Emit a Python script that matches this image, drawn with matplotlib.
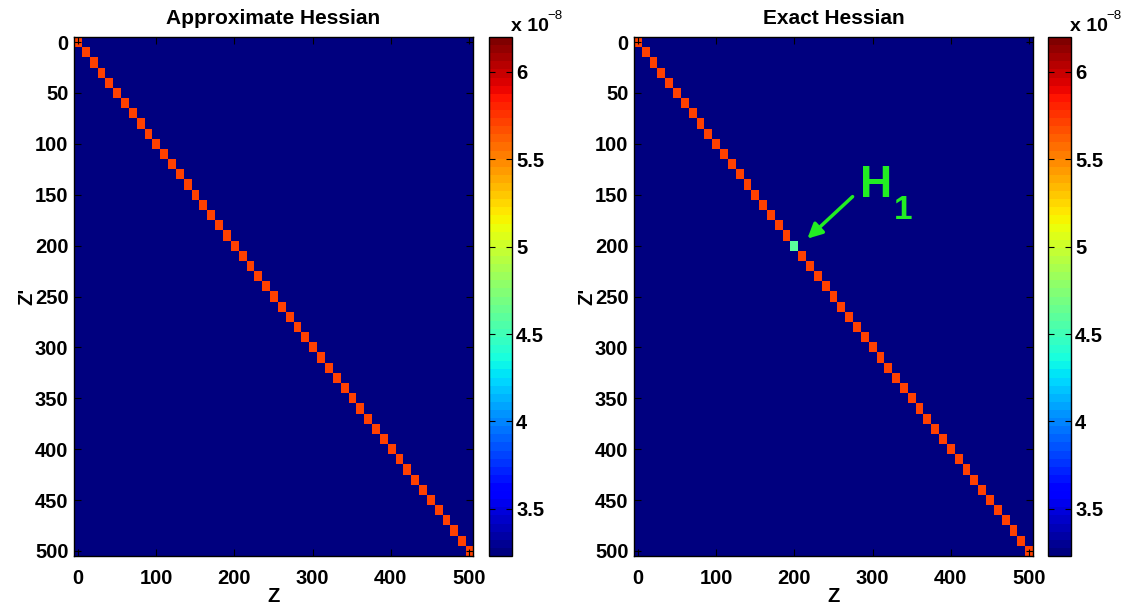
import numpy as np
import matplotlib
matplotlib.use('Agg')
import matplotlib.pyplot as plt

plt.rcParams['font.family'] = ['Liberation Sans', 'DejaVu Sans']
plt.rcParams['font.weight'] = 'bold'

# grid of depth points (one matrix cell per point)
z = np.arange(0, 501, 10)
n = len(z)

background = 3.23e-8          # off-diagonal level
diag_value = 5.7e-8           # diagonal level
h1_z = 200                    # cell where the exact hessian differs
h1_value = 4.6e-8

cmin, cmax = 3.23e-8, 6.2e-8
cbar_ticks = [3.5e-8, 4e-8, 4.5e-8, 5e-8, 5.5e-8, 6e-8]
cbar_labels = ['3.5', '4', '4.5', '5', '5.5', '6']

titles = ['Approximate Hessian', 'Exact Hessian']

# build both matrices
H_approx = np.full((n, n), background)
np.fill_diagonal(H_approx, diag_value)
H_exact = H_approx.copy()
k = list(z).index(h1_z)
H_exact[k, k] = h1_value

cmap = plt.get_cmap('jet', 64)
W, Hh = 1132, 605
fig = plt.figure(figsize=(W / 100, Hh / 100), dpi=100)

def fx(px):
    return px / W

bottom = (Hh - 556) / Hh
height = 519 / Hh

panels = [(74, 489, H_approx), (634, 1048, H_exact)]
for (ax_x, cb_x, H), title in zip(panels, titles):
    ax = fig.add_axes([fx(ax_x), bottom, fx(399), height])
    im = ax.imshow(H, cmap=cmap, vmin=cmin, vmax=cmax, aspect='auto',
                   interpolation='nearest', extent=(-5, 505, 505, -5))
    ax.set_xticks(range(0, 501, 100))
    ax.set_yticks(range(0, 501, 50))
    ax.tick_params(direction='in', top=True, right=True, length=5,
                   width=0.8, labelsize=14.5)
    ax.tick_params(axis='x', pad=9)
    ax.tick_params(axis='y', pad=4)
    for s in ax.spines.values():
        s.set_linewidth(1.0)
    ax.set_xlabel('Z', fontsize=14.5, fontweight='bold', labelpad=0)
    ax.set_ylabel("Z'", fontsize=14.5, fontweight='bold', labelpad=-1)
    ax.set_title(title, fontsize=15, fontweight='bold', pad=9)

    cax = fig.add_axes([fx(cb_x), bottom, fx(23), height])
    cb = fig.colorbar(im, cax=cax)
    cb.set_ticks(cbar_ticks)
    cb.set_ticklabels(cbar_labels)
    cb.ax.tick_params(direction='in', left=True, right=True, length=4,
                      width=0.8, labelsize=14.5, pad=3)
    cb.outline.set_linewidth(1.0)
    fig.text(fx(cb_x + 22), (Hh - 35) / Hh, 'x 10', fontsize=14,
             fontweight='bold', ha='left', va='bottom')
    fig.text(fx(cb_x + 58), (Hh - 22) / Hh, '\u22128', fontsize=9.5,
             fontweight='normal', ha='left', va='bottom')

    if title == 'Exact Hessian':
        green = '#22ee22'
        ax.annotate('', xy=(214, 195), xytext=(277, 150),
                    arrowprops=dict(arrowstyle='-|>', color=green, lw=2.5,
                                    mutation_scale=22))
        ax.text(284, 152, 'H', color=green, fontsize=32, fontweight='bold',
                ha='left', va='baseline')
        ax.text(327, 174, '1', color=green, fontsize=24, fontweight='bold',
                ha='left', va='baseline')

fig.savefig('out.png', dpi=100)
